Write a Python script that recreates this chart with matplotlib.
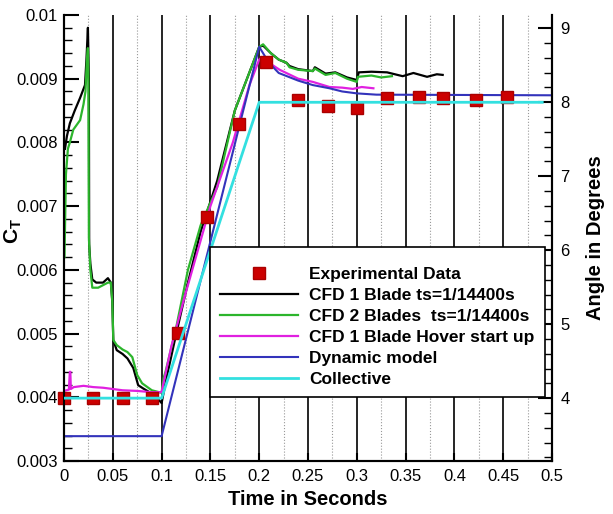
import matplotlib
matplotlib.use("Agg")
from matplotlib import pyplot as plt
from matplotlib.ticker import MultipleLocator, FormatStrFormatter

plt.rcParams['font.family'] = ['Liberation Sans', 'DejaVu Sans']
plt.rcParams['mathtext.fontset'] = 'custom'
plt.rcParams['mathtext.rm'] = 'Liberation Sans'
plt.rcParams['mathtext.bf'] = 'Liberation Sans:bold'

# experimental data (squares)
t_exp = [0.0, 0.03, 0.06, 0.09, 0.117, 0.147, 0.179, 0.207, 0.24, 0.27,
         0.30, 0.331, 0.364, 0.388, 0.422, 0.454]
ct_exp = [0.00399, 0.00399, 0.00399, 0.00399, 0.00501, 0.00683, 0.00829, 0.00926,
          0.00866, 0.00857, 0.00854, 0.00870, 0.00871, 0.00870, 0.00866, 0.00871]

# CFD 1 blade ts=1/14400s
t_cfd1 = [0.001, 0.003, 0.0045, 0.006, 0.011, 0.0165, 0.0215, 0.023, 0.0245, 0.0255,
          0.0258, 0.027, 0.029, 0.033, 0.04, 0.045, 0.048, 0.0495, 0.0505, 0.054,
          0.06, 0.065, 0.071, 0.076, 0.081, 0.093, 0.1, 0.105, 0.115, 0.127,
          0.14, 0.157, 0.175, 0.19, 0.2, 0.204, 0.212, 0.22, 0.228, 0.231,
          0.24, 0.255, 0.257, 0.268, 0.278, 0.29, 0.3, 0.302, 0.315, 0.331,
          0.347, 0.358, 0.372, 0.382, 0.388]
ct_cfd1 = [0.0079, 0.0081, 0.0082, 0.0083, 0.0085, 0.0087, 0.0089, 0.0093, 0.0098, 0.0090,
           0.0064, 0.0061, 0.00585, 0.0058, 0.0058, 0.00587, 0.0058, 0.0055, 0.0049, 0.00474,
           0.00468, 0.00461, 0.00446, 0.00419, 0.00414, 0.00403, 0.00391, 0.0043, 0.0050, 0.0058,
           0.0066, 0.0074, 0.0085, 0.0091, 0.0095, 0.00952, 0.0094, 0.0093, 0.00925, 0.0092,
           0.00915, 0.00912, 0.00918, 0.00908, 0.0091, 0.00902, 0.00898, 0.0091, 0.00911, 0.0091,
           0.00904, 0.00909, 0.00903, 0.00907, 0.00906]

# CFD 2 blades ts=1/14400s
t_cfd2 = [0.0005, 0.002, 0.004, 0.006, 0.0095, 0.0165, 0.02, 0.022, 0.0235, 0.0245,
          0.025, 0.0255, 0.027, 0.029, 0.035, 0.045, 0.048, 0.0495, 0.0505, 0.054,
          0.06, 0.065, 0.07, 0.075, 0.08, 0.09, 0.1, 0.102, 0.104, 0.115,
          0.127, 0.14, 0.157, 0.175, 0.19, 0.2, 0.204, 0.212, 0.22, 0.228,
          0.231, 0.24, 0.255, 0.257, 0.268, 0.278, 0.29, 0.3, 0.301, 0.315,
          0.325, 0.336]
ct_cfd2 = [0.0062, 0.0075, 0.0079, 0.0080, 0.0082, 0.00835, 0.0086, 0.0088, 0.0093, 0.00948,
           0.0090, 0.0065, 0.0060, 0.00572, 0.00572, 0.0058, 0.0058, 0.0055, 0.0049, 0.00482,
           0.00475, 0.00471, 0.00463, 0.00435, 0.00422, 0.00411, 0.00407, 0.0043, 0.0044, 0.0051,
           0.0060, 0.0067, 0.0073, 0.0085, 0.0091, 0.0095, 0.00954, 0.0094, 0.0093, 0.00925,
           0.00918, 0.00914, 0.00912, 0.00916, 0.00906, 0.00909, 0.009, 0.00895, 0.00903, 0.00905,
           0.00902, 0.00904]

# CFD 1 blade hover start up
t_hover = [0.0, 0.005, 0.006, 0.0065, 0.007, 0.01, 0.02, 0.03, 0.04, 0.05,
           0.06, 0.075, 0.09, 0.1, 0.11, 0.124, 0.15, 0.173, 0.19, 0.2,
           0.203, 0.21, 0.221, 0.24, 0.255, 0.272, 0.285, 0.296, 0.305, 0.317]
ct_hover = [0.0041, 0.00412, 0.0044, 0.0044, 0.00413, 0.00416, 0.00418, 0.00416, 0.00415, 0.00413,
            0.00411, 0.0041, 0.00408, 0.00408, 0.0048, 0.0056, 0.0070, 0.0080, 0.0089, 0.0093,
            0.00934, 0.00925, 0.00914, 0.009, 0.00895, 0.00887, 0.00886, 0.00884, 0.00887, 0.00885]

# dynamic model
t_dyn = [0.0, 0.1, 0.2, 0.21, 0.22, 0.24, 0.255, 0.272, 0.285, 0.3, 0.32, 0.5]
ct_dyn = [0.00339, 0.00339, 0.0095, 0.00925, 0.00909, 0.00897, 0.0089, 0.00885, 0.0088,
          0.00877, 0.00875, 0.00874]

# collective pitch (right axis, degrees)
t_coll = [0.0, 0.1, 0.2, 0.49]
deg_coll = [4, 4, 8, 8]

fig = plt.figure(figsize=(6.13, 5.14), dpi=100)
ax = fig.add_axes([0.1044, 0.1031, 0.7961, 0.8677])
ax2 = ax.twinx()

# vertical grid lines
ax.xaxis.set_major_locator(MultipleLocator(0.05))
ax.xaxis.set_minor_locator(MultipleLocator(0.025))
ax.grid(True, which='major', axis='x', color='black', linewidth=1.2)
ax.grid(True, which='minor', axis='x', color='#999999', linestyle=':', linewidth=0.8)

ax.plot(t_cfd1, ct_cfd1, color='black', lw=1.6, label='CFD 1 Blade ts=1/14400s', zorder=3)
ax.plot(t_cfd2, ct_cfd2, color='#2cb52c', lw=1.6, label='CFD 2 Blades  ts=1/14400s', zorder=3)
ax.plot(t_hover, ct_hover, color='#e020e0', lw=1.6, label='CFD 1 Blade Hover start up', zorder=3)
ax.plot(t_dyn, ct_dyn, color='#3333bb', lw=1.5, label='Dynamic model', zorder=3)
ax.plot(t_exp, ct_exp, linestyle='none', marker='s', markersize=8.5, color='#cc0000',
        markeredgecolor='#aa0000', label='Experimental Data', zorder=4, clip_on=False)
ax2.plot(t_coll, deg_coll, color='#33e0e0', lw=2, label='Collective', zorder=3)

ax.set_xlim(0, 0.5)
ax.set_ylim(0.003, 0.01)
ax2.set_ylim(3.15, 9.18)

ax.yaxis.set_major_locator(MultipleLocator(0.001))
ax.yaxis.set_minor_locator(MultipleLocator(0.0002))
ax.yaxis.set_major_formatter(FormatStrFormatter('%g'))
ax.xaxis.set_major_formatter(FormatStrFormatter('%g'))
ax2.yaxis.set_major_locator(MultipleLocator(1))
ax2.yaxis.set_minor_locator(MultipleLocator(0.2))

ax.tick_params(axis='y', which='major', direction='in', length=11, width=1.5, labelsize=12, pad=4.5)
ax.tick_params(axis='y', which='minor', direction='in', length=6, width=1)
ax.tick_params(axis='x', which='major', direction='in', length=6, width=1.5, labelsize=12, pad=6)
ax.tick_params(axis='x', which='minor', length=0)
ax2.tick_params(axis='y', which='major', direction='in', length=10, width=1.5, labelsize=12, pad=6)
ax2.tick_params(axis='y', which='minor', direction='in', length=6, width=1)

for a in (ax, ax2):
    a.spines['top'].set_visible(False)
    for s in ('left', 'right', 'bottom'):
        a.spines[s].set_linewidth(1.5)

ax.set_xlabel('Time in Seconds', fontsize=14.5, fontweight='bold', labelpad=4)
ax.set_ylabel(r'$\mathbf{C_T}$', fontsize=15)
ax.yaxis.set_label_coords(-0.082, 0.516)
ax2.set_ylabel('Angle in Degrees', fontsize=14.5, fontweight='bold', labelpad=12)

# legend (empty tiny title gives the extra room above the first row)
h1, l1 = ax.get_legend_handles_labels()
h2, l2 = ax2.get_legend_handles_labels()
order = [4, 0, 1, 2, 3]
handles = [h1[i] for i in order] + h2
labels = [l1[i] for i in order] + l2
leg = ax2.legend(handles, labels, loc='upper left', bbox_to_anchor=(0.299, 0.48),
                 prop={'weight': 'bold', 'size': 12.5}, frameon=True, fancybox=False,
                 edgecolor='black', framealpha=1, handlelength=4.5, handletextpad=0.6,
                 labelspacing=0.33, borderpad=0.6, borderaxespad=0,
                 title=' ', title_fontsize=3)
leg.get_frame().set_linewidth(1.2)
leg.set_zorder(10)

fig.savefig('out.png', dpi=100)
